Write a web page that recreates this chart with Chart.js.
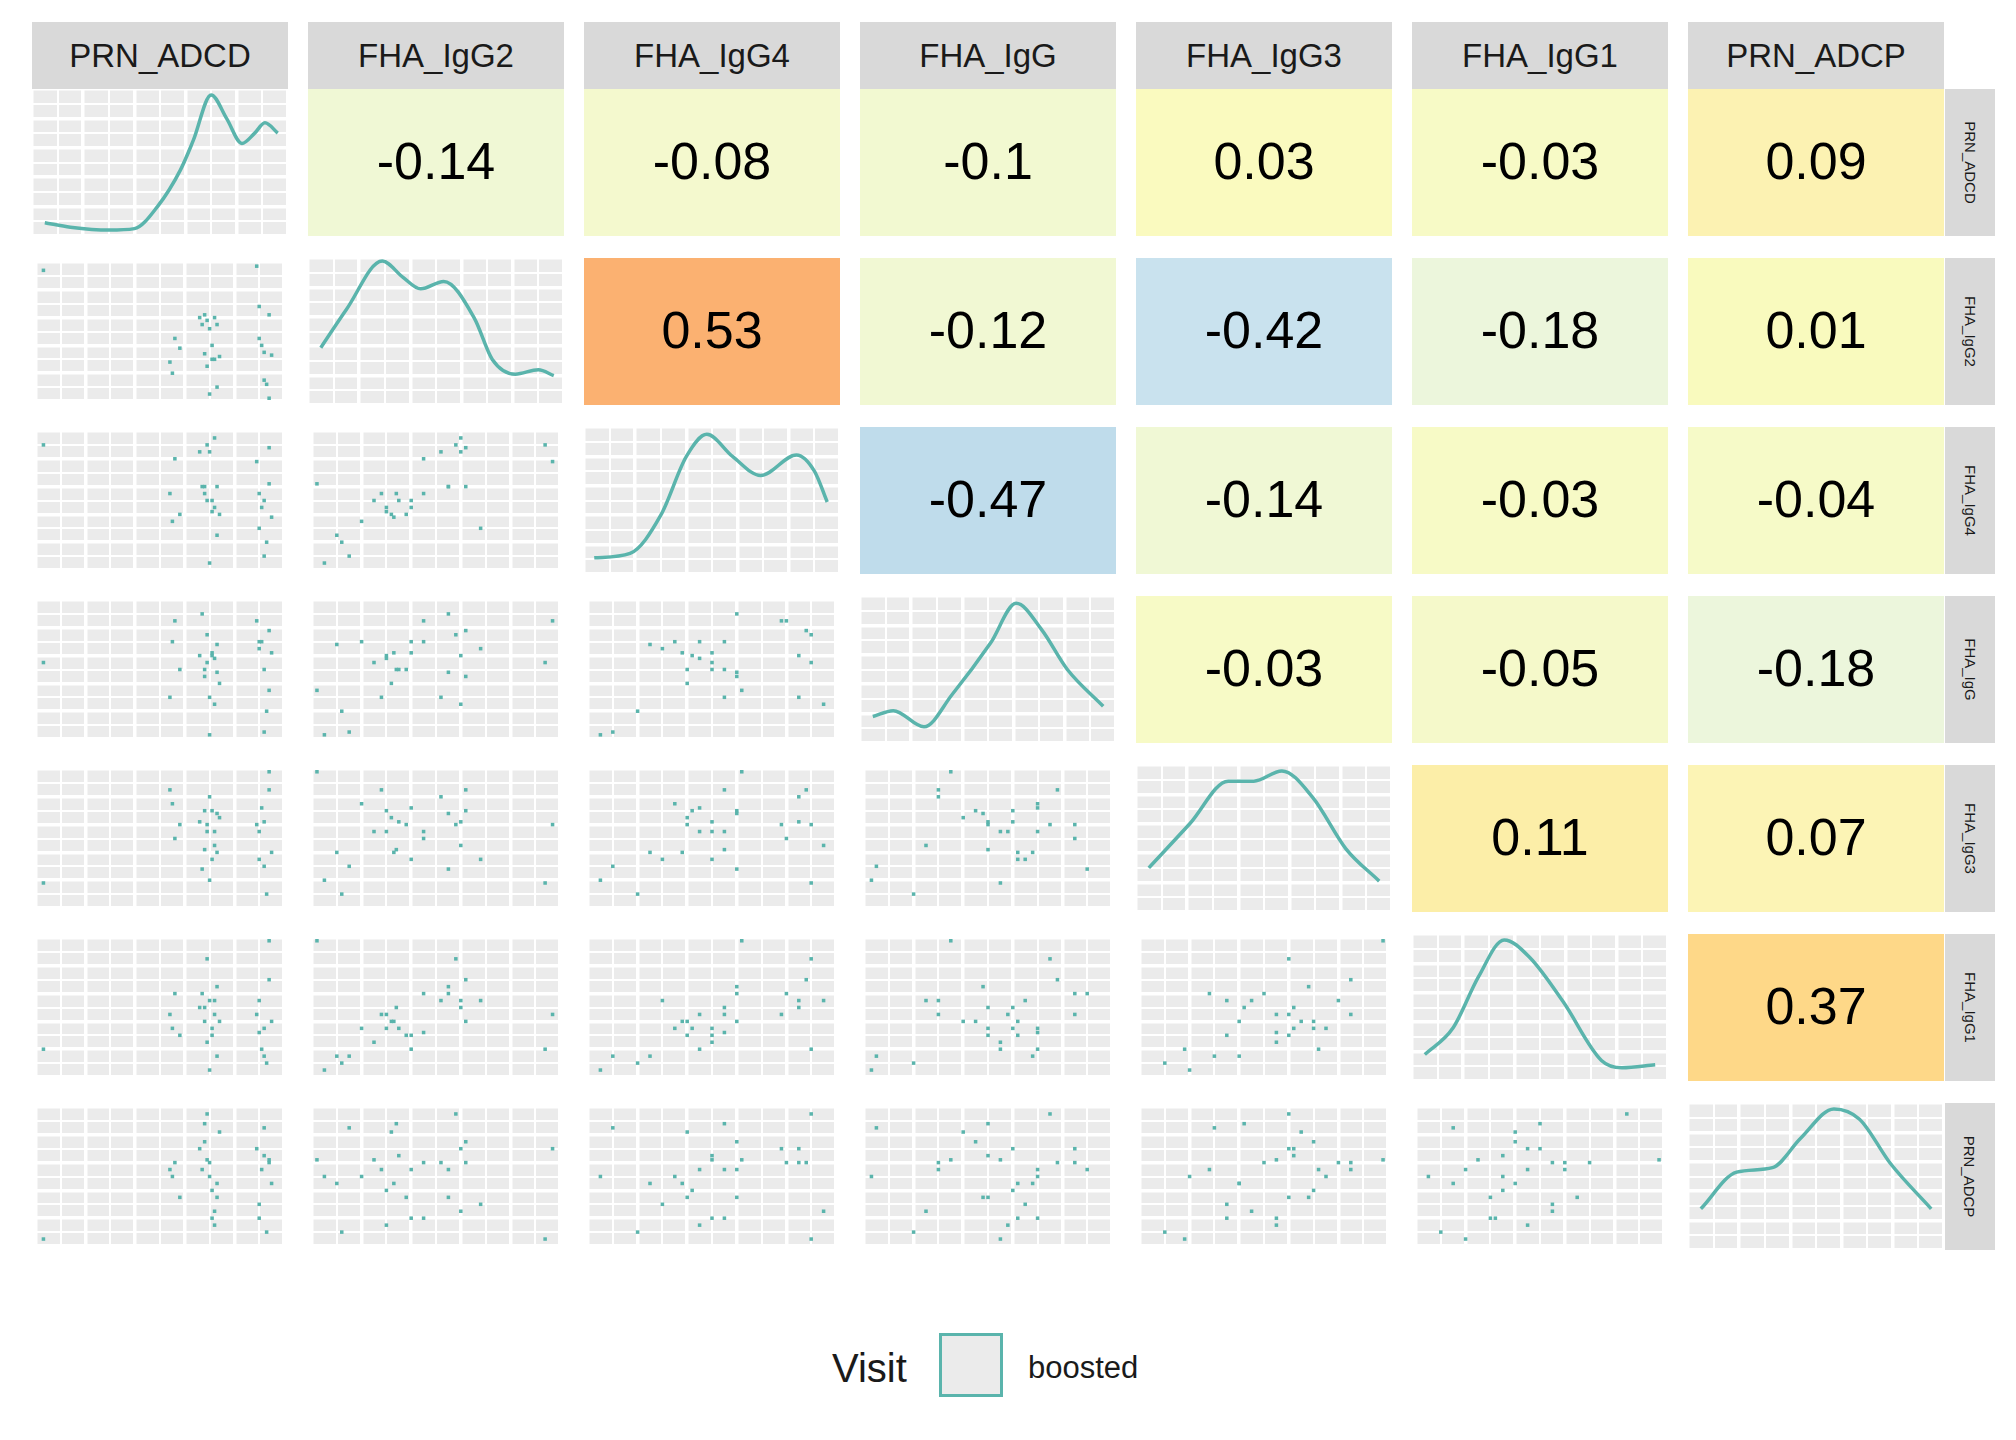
<!DOCTYPE html>
<html><head><meta charset="utf-8">
<script src="https://cdn.jsdelivr.net/npm/chart.js@4"></script>
<style>
body{margin:0;background:#fff;font-family:"Liberation Sans",Arial,sans-serif;}
#wrap{position:relative;width:2016px;height:1440px;}
.cell{position:absolute;}
.strip{position:absolute;background:#D9D9D9;color:#1A1A1A;display:flex;align-items:center;justify-content:center;}
.top{font-size:33px;}
.side span{transform:rotate(90deg);white-space:nowrap;font-size:15px;}
</style></head><body>
<div id="wrap"></div>
<script>
const vars = ["PRN_ADCD","FHA_IgG2","FHA_IgG4","FHA_IgG","FHA_IgG3","FHA_IgG1","PRN_ADCP"];

// upper triangle correlations, row by row
const corr = [
  [null,-0.14,-0.08,-0.1,0.03,-0.03,0.09],
  [null,null,0.53,-0.12,-0.42,-0.18,0.01],
  [null,null,null,-0.47,-0.14,-0.03,-0.04],
  [null,null,null,null,-0.03,-0.05,-0.18],
  [null,null,null,null,null,0.11,0.07],
  [null,null,null,null,null,null,0.37]
];
const corrColors = [
  [null,"#F0F8D5","#F4F9CE","#F2F9D1","#FAFABF","#F7FAC6","#FCF2B2"],
  [null,null,"#FBB171","#F1F8D3","#C9E2EE","#ECF6DC","#F9FABE"],
  [null,null,null,"#BFDCEB","#F0F8D5","#F7FAC6","#F6FAC8"],
  [null,null,null,null,"#F7FAC6","#F5F9CA","#ECF6DC"],
  [null,null,null,null,null,"#FCEEA8","#FCF4B5"],
  [null,null,null,null,null,null,"#FED888"]
];

// density curves, x and y normalised to panel range
const dens = [
  [[0.05,0.09],[0.15,0.06],[0.3,0.04],[0.4,0.05],[0.49,0.2],[0.58,0.45],[0.63,0.65],[0.7,0.96],[0.76,0.8],[0.82,0.63],[0.87,0.7],[0.91,0.77],[0.96,0.7]],
  [[0.05,0.39],[0.15,0.65],[0.29,0.98],[0.37,0.87],[0.44,0.79],[0.53,0.84],[0.65,0.59],[0.72,0.31],[0.81,0.21],[0.9,0.24],[0.96,0.2]],
  [[0.04,0.11],[0.18,0.14],[0.3,0.4],[0.4,0.8],[0.48,0.95],[0.58,0.8],[0.69,0.67],[0.83,0.81],[0.9,0.7],[0.95,0.49]],
  [[0.05,0.18],[0.13,0.22],[0.25,0.11],[0.36,0.33],[0.51,0.68],[0.61,0.95],[0.71,0.77],[0.81,0.5],[0.95,0.25]],
  [[0.05,0.3],[0.21,0.6],[0.36,0.89],[0.46,0.89],[0.57,0.96],[0.69,0.78],[0.82,0.43],[0.95,0.21]],
  [[0.05,0.18],[0.16,0.36],[0.26,0.71],[0.36,0.96],[0.46,0.84],[0.59,0.54],[0.74,0.14],[0.82,0.09],[0.95,0.11]],
  [[0.05,0.28],[0.19,0.53],[0.33,0.56],[0.44,0.76],[0.57,0.96],[0.67,0.89],[0.79,0.59],[0.95,0.28]]
];

// observations, normalised per variable
const PRN_ADCD = [0.03,0.54,0.56,0.58,0.55,0.66,0.68,0.69,0.7,0.71,0.72,0.73,0.67,0.74,0.7,0.69,0.72,0.71,0.68,0.73,0.89,0.9,0.91,0.92,0.93,0.94,0.95,0.9,0.92,0.94];
const FHA_IgG2 = [0.94,0.28,0.45,0.38,0.2,0.6,0.62,0.58,0.52,0.4,0.3,0.1,0.55,0.32,0.05,0.25,0.6,0.3,0.34,0.55,0.97,0.68,0.4,0.35,0.12,0.62,0.33,0.45,0.15,0.02];
const FHA_IgG4 = [0.9,0.55,0.8,0.4,0.35,0.85,0.6,0.9,0.85,0.5,0.45,0.25,0.6,0.4,0.05,0.5,0.95,0.42,0.55,0.6,0.78,0.3,0.45,0.5,0.2,0.88,0.38,0.55,0.1,0.62];
const FHA_IgG = [0.55,0.3,0.85,0.5,0.7,0.6,0.45,0.75,0.3,0.62,0.58,0.68,0.9,0.4,0.03,0.55,0.25,0.6,0.5,0.48,0.85,0.65,0.7,0.5,0.2,0.78,0.62,0.7,0.05,0.35];
const FHA_IgG3 = [0.18,0.85,0.5,0.6,0.75,0.62,0.7,0.6,0.8,0.35,0.55,0.4,0.28,0.65,0.2,0.55,0.45,0.7,0.42,0.68,0.6,0.35,0.72,0.62,0.1,0.85,0.4,0.55,0.3,0.98];
const FHA_IgG1 = [0.2,0.45,0.6,0.3,0.35,0.5,0.4,0.85,0.55,0.3,0.45,0.15,0.6,0.4,0.05,0.25,0.55,0.35,0.5,0.65,0.45,0.55,0.2,0.35,0.1,0.7,0.4,0.32,0.15,0.98];
const PRN_ADCP = [0.05,0.55,0.6,0.35,0.5,0.7,0.75,0.95,0.6,0.2,0.15,0.45,0.55,0.82,0.5,0.62,0.25,0.4,0.88,0.35,0.7,0.3,0.55,0.65,0.1,0.6,0.45,0.2,0.85,0.62];
const obs = [PRN_ADCD,FHA_IgG2,FHA_IgG4,FHA_IgG,FHA_IgG3,FHA_IgG1,PRN_ADCP];

const teal = "#5AB4AC";
const colX = [32,308,584,860,1136,1412,1688], cellW = 256;
const rowY = [89,258,427,596,765,934,1103], cellH = 147;
const wrap = document.getElementById("wrap");

function add(tag, cls, x, y, w, h, html){
  const el = document.createElement(tag);
  el.className = cls;
  Object.assign(el.style,{left:x+"px",top:y+"px",width:w+"px",height:h+"px"});
  if (html) el.innerHTML = html;
  wrap.appendChild(el);
  return el;
}

vars.forEach((v,i)=>{
  add("div","strip top",colX[i],22,cellW,67,v);
  add("div","strip side",1945,rowY[i],50,cellH,"<span>"+v+"</span>");
});

const panelBg = {
  id:"panelBg",
  beforeDraw(c,args,o){
    const a=c.chartArea, ctx=c.ctx;
    ctx.save(); ctx.fillStyle=o.color; ctx.fillRect(a.left,a.top,a.width,a.height); ctx.restore();
  }
};
const corrText = {
  id:"corrText",
  afterDraw(c,args,o){
    if (o.text==null) return;
    const a=c.chartArea, ctx=c.ctx;
    ctx.save(); ctx.fillStyle="#000"; ctx.font='52px "Liberation Sans", Arial';
    ctx.textAlign="center"; ctx.textBaseline="middle";
    ctx.fillText(o.text,(a.left+a.right)/2,(a.top+a.bottom)/2+2); ctx.restore();
  }
};

function axis(show, step){
  return {type:"linear",min:0,max:1,display:show,
    ticks:{display:false,stepSize:step},border:{display:false},
    grid:{color:"#fff",drawTicks:false,lineWidth:ctx=>ctx.index%2?2:3.5}};
}

for (let i=0;i<7;i++) for (let j=0;j<7;j++){
  const cv = add("canvas","cell",colX[j],rowY[i],cellW,cellH);
  cv.width=cellW; cv.height=cellH;
  let datasets=[], bg="#EBEBEB", txt=null, show=true;
  if (j>i){
    bg = corrColors[i][j]; show=false;
    txt = String(corr[i][j]);
  } else if (i===j){
    datasets=[{type:"line",data:dens[i].map(p=>({x:p[0],y:p[1]})),borderColor:teal,borderWidth:3.5,pointRadius:0,tension:0.4,cubicInterpolationMode:"monotone"}];
  } else {
    datasets=[{type:"scatter",data:obs[j].map((x,k)=>({x:x,y:obs[i][k]})),backgroundColor:teal,borderWidth:0,pointStyle:"rect",pointRadius:2.5}];
  }
  new Chart(cv,{
    type:"scatter",
    data:{datasets},
    plugins:[panelBg,corrText],
    options:{responsive:false,animation:false,devicePixelRatio:1,
      layout:{padding:0},
      scales:{x:axis(show,0.1),y:axis(show,0.1)},
      plugins:{legend:{display:false},tooltip:{enabled:false},panelBg:{color:bg},corrText:{text:txt}}}
  });
}

// legend
add("div","cell",832,1346,110,50,'<span style="font-size:40px;color:#1A1A1A">Visit</span>');
add("div","cell",939,1333,64,64,"").style.cssText+="background:#EBEBEB;border:3px solid "+teal+";box-sizing:border-box;";
add("div","cell",1028,1350,200,40,'<span style="font-size:31px;color:#1A1A1A">boosted</span>');
</script>
</body></html>
